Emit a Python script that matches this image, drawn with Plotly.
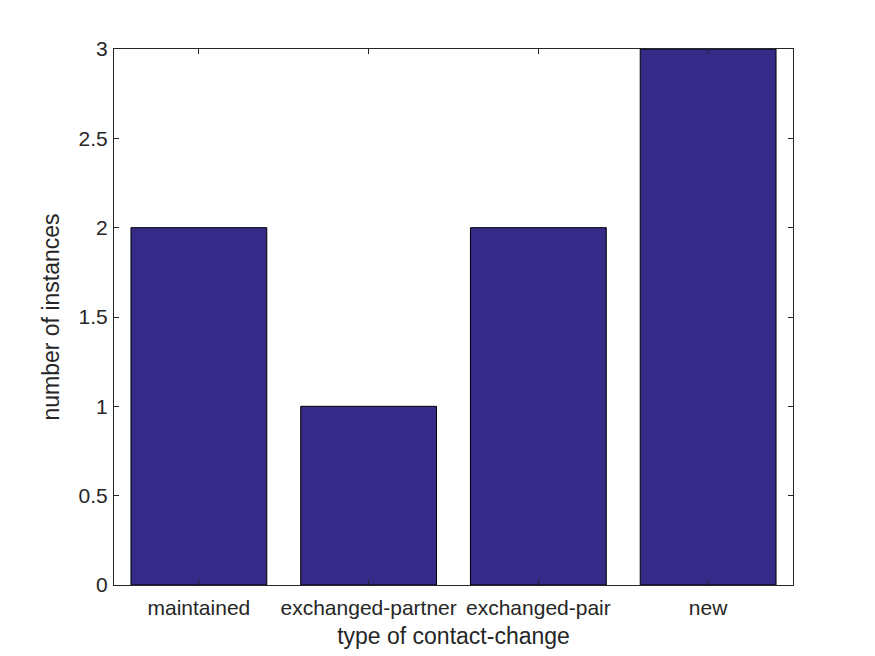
import plotly.graph_objects as go

categories = ["maintained", "exchanged-partner", "exchanged-pair", "new"]
counts = [2, 1, 2, 3]
y_ticks = [0, 0.5, 1, 1.5, 2, 2.5, 3]
y_tick_labels = ["0", "0.5", "1", "1.5", "2", "2.5", "3"]

fig = go.Figure(go.Bar(
    x=list(range(len(categories))), y=counts,
    marker=dict(color="#352A87", line=dict(color="black", width=1)),
    width=0.8,
))

axis_common = dict(
    showline=True, linecolor="#262626", linewidth=1, mirror="ticks",
    ticks="inside", ticklen=5, tickcolor="#262626", tickwidth=1,
    showgrid=False, zeroline=False,
    tickfont=dict(family="Liberation Sans, Arial", size=21, color="#262626"),
)

fig.update_layout(
    width=875, height=656,
    margin=dict(l=106, r=90, t=41, b=79),
    paper_bgcolor="white", plot_bgcolor="white",
    showlegend=False,
    xaxis=dict(
        **axis_common,
        range=[-0.5, 3.5],
        tickmode="array", tickvals=list(range(len(categories))), ticktext=categories,
        ticklabelstandoff=4,
        title=dict(text="type of contact-change", standoff=9,
                   font=dict(family="Liberation Sans, Arial", size=23, color="#262626")),
    ),
    yaxis=dict(
        **axis_common,
        range=[0, 3],
        tickmode="array", tickvals=y_ticks, ticktext=y_tick_labels,
        ticklabelstandoff=1,
        title=dict(text="number of instances", standoff=12,
                   font=dict(family="Liberation Sans, Arial", size=23, color="#262626")),
    ),
)

fig.write_html("out.html")
